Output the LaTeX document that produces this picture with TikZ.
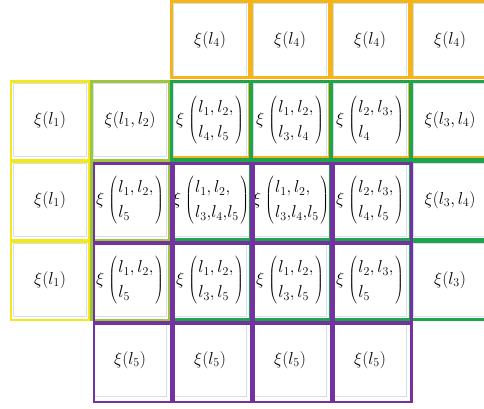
\documentclass[tikz,border=0pt]{standalone}
\definecolor{cellyellow}{HTML}{F3E81A}
\definecolor{celllime}{HTML}{9DC63E}
\definecolor{cellorange}{HTML}{F6B417}
\definecolor{cellgreen}{HTML}{20A44B}
\definecolor{cellpurple}{HTML}{7233A0}
\definecolor{cellglow}{HTML}{D3DEF3}
\newcommand{\xiset}[2]{$\xi\mkern1mu\left(\mkern1.5mu\begin{array}{@{}l@{}}#1\\#2\end{array}\mkern1.5mu\right)$}

\begin{document}
\begin{tikzpicture}[x=1pt, y=-1pt,
    every node/.style={font=\fontsize{17}{21}\selectfont},
    cell/.style={draw=cellglow, line width=0.7pt, minimum size=73pt, inner sep=0pt},
    frame/.style={line width=2.2pt}]
  \useasboundingbox (0,0) rectangle (484,408);
  \renewcommand{\arraystretch}{1.2}
  % row 0
  \node[cell] (r0c2) at (210,40) {$\xi(l_4)$};
  \node[cell] (r0c3) at (290,40) {$\xi(l_4)$};
  \node[cell] (r0c4) at (370,40) {$\xi(l_4)$};
  \node[cell] (r0c5) at (450,40) {$\xi(l_4)$};
  % row 1
  \node[cell] (r1c0) at (50,120) {$\xi(l_1)$};
  \node[cell] (r1c1) at (130,120) {$\xi(l_1,l_2)$};
  \node[cell] (r1c2) at (210,120) {\xiset{l_1,l_2,}{l_4,l_5}};
  \node[cell] (r1c3) at (290,120) {\xiset{l_1,l_2,}{l_3,l_4}};
  \node[cell] (r1c4) at (370,120) {\xiset{l_2,l_3,}{l_4}};
  \node[cell] (r1c5) at (450,120) {$\xi(l_3,l_4)$};
  % row 2
  \node[cell] (r2c0) at (50,200) {$\xi(l_1)$};
  \node[cell] (r2c1) at (130,200) {\xiset{l_1,l_2,}{l_5}};
  \node[cell] (r2c2) at (211,200) {\xiset{l_1,l_2,}{l_3{,}l_4{,}l_5}};
  \node[cell] (r2c3) at (291,200) {\xiset{l_1,l_2,}{l_3{,}l_4{,}l_5}};
  \node[cell] (r2c4) at (370,200) {\xiset{l_2,l_3,}{l_4,l_5}};
  \node[cell] (r2c5) at (450,200) {$\xi(l_3,l_4)$};
  % row 3
  \node[cell] (r3c0) at (50,280) {$\xi(l_1)$};
  \node[cell] (r3c1) at (130,280) {\xiset{l_1,l_2,}{l_5}};
  \node[cell] (r3c2) at (210,280) {\xiset{l_1,l_2,}{l_3,l_5}};
  \node[cell] (r3c3) at (290,280) {\xiset{l_1,l_2,}{l_3,l_5}};
  \node[cell] (r3c4) at (370,280) {\xiset{l_2,l_3,}{l_5}};
  \node[cell] (r3c5) at (450,280) {$\xi(l_3)$};
  % row 4
  \node[cell] (r4c1) at (130,360) {$\xi(l_5)$};
  \node[cell] (r4c2) at (210,360) {$\xi(l_5)$};
  \node[cell] (r4c3) at (290,360) {$\xi(l_5)$};
  \node[cell] (r4c4) at (370,360) {$\xi(l_5)$};
  % coloured groups
  \foreach \c in {2,...,5}
    \foreach \r in {0,1}
      \draw[frame, cellorange] (10+80*\c+1.5, 80*\r+1.5) rectangle (10+80*\c+79.5, 80*\r+77.5);
  \foreach \r in {1,2,3}
    \draw[frame, cellyellow] (11, 80*\r+1.5) rectangle (89.5, 80*\r+80);
  \foreach \r in {1,2,3}
    \draw[frame, celllime] (91.5, 80*\r+1.5) rectangle (169.5, 80*\r+80);
  \foreach \c in {2,...,5}
    \foreach \r in {1,2,3}
      \draw[frame, cellgreen] (10+80*\c+1.5, 80*\r+1.5) rectangle (10+80*\c+80, 80*\r+79.5);
  \foreach \c in {1,...,4}
    \foreach \r in {2,3,4}
      \draw[frame, cellpurple] (10+80*\c+4, 80*\r+3.5) rectangle (10+80*\c+81.5, 80*\r+82);
\end{tikzpicture}
\end{document}
